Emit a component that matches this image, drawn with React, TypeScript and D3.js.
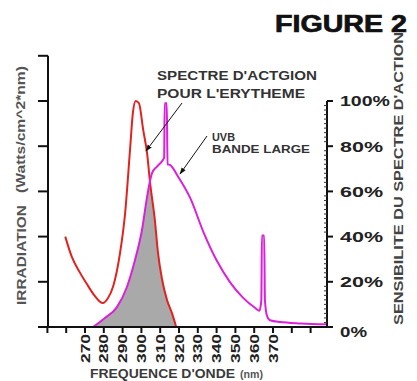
import React from "react";
import * as d3 from "d3";

// Erythema action spectrum (red)
const redNm = [259.5, 263, 267, 271, 275, 279.5, 282, 285, 288.5, 291.3, 294, 295.5, 297, 298.7, 301, 303, 304.6, 307.2, 308.8, 311, 313.6, 316.3, 318.5];
const redVal = [40, 31, 24.5, 19, 14, 10.6, 12.5, 18, 32, 50, 79, 95, 100, 99, 87, 77, 64, 47, 33, 21, 12, 6, 0];

// Broadband UVB lamp spectrum (magenta)
const uvbNm = [274.3, 280.6, 287, 292.3, 296.6, 300.3, 303, 305.6, 308.3, 311.5, 312.1, 312.4, 313.5, 313.9, 315.2, 319.6, 326, 333, 340, 347, 354, 360.4, 362.8, 363.8, 364.1, 365.3, 365.7, 366.8, 368.4, 373.7, 385, 398.5];
const uvbVal = [0, 4, 8.8, 17.7, 29.6, 42.9, 57.5, 68, 71, 74, 75, 99, 99, 72, 71.7, 66.4, 57, 42, 29.5, 20, 13, 8.5, 7.2, 12, 40.5, 40.5, 12, 5, 3, 2.2, 1.6, 1.2];

const xTicks = [250, 260, 270, 280, 290, 300, 310, 320, 330, 340, 350, 360, 370, 380, 390];
const xTickLabels = ["270", "280", "290", "300", "310", "320", "330", "340", "350", "360", "370"];
const leftTicks = [20, 40, 60, 80, 100, 120];
const rightTicks = [0, 20, 40, 60, 80, 100];
const rightTickLabels = ["0%", "20%", "40%", "60%", "80%", "100%"];

const FONT = "'Liberation Sans', Arial, sans-serif";

export default function App() {
  const x = d3.scaleLinear().domain([250, 400]).range([47.4, 329.4]);
  const y = d3.scaleLinear().domain([0, 100]).range([327, 101]);

  const red = redNm.map((n, i) => [n, redVal[i]] as [number, number]);
  const uvb = uvbNm.map((n, i) => [n, uvbVal[i]] as [number, number]);

  const line = d3
    .line<[number, number]>()
    .x((d) => x(d[0]))
    .y((d) => y(d[1]))
    .curve(d3.curveMonotoneX);
  const area = d3
    .area<[number, number]>()
    .x((d) => x(d[0]))
    .y0(y(0))
    .y1((d) => y(d[1]))
    .curve(d3.curveMonotoneX);

  const axL = 48;
  const axR = 327;
  const base = y(0);

  const minorRight = d3.range(0, 101, 2).filter((v) => v % 20 !== 0);

  return (
    <svg
      width={417}
      height={381}
      style={{ position: "absolute", left: 0, top: 0, background: "#fff" }}
      fontFamily={FONT}
    >
      <defs>
        <clipPath id="redClip">
          <path d={area(red) || ""} />
        </clipPath>
        <marker id="ah" viewBox="0 0 10 10" refX="9" refY="5" markerWidth="7" markerHeight="7" orient="auto">
          <path d="M0,1.5 L10,5 L0,8.5 z" fill="#111" />
        </marker>
      </defs>

      {/* Title */}
      <text x={275} y={32} fontSize={23} fontWeight="bold" fill="#111" stroke="#111" strokeWidth={0.7} textLength={132} lengthAdjust="spacingAndGlyphs">
        FIGURE 2
      </text>

      {/* overlap fill */}
      <path d={area(uvb) || ""} fill="#a9a9a9" clipPath="url(#redClip)" />

      {/* curves */}
      <path d={line(red) || ""} fill="none" stroke="#e2221e" strokeWidth={2} />
      <path d={line(uvb) || ""} fill="none" stroke="#dc1fdc" strokeWidth={2} />

      {/* left axis */}
      <line x1={axL} x2={axL} y1={y(120)} y2={base} stroke="#111" strokeWidth={2} />
      {leftTicks.map((t) => (
        <line key={"lt" + t} x1={axL - 10} x2={axL} y1={y(t)} y2={y(t)} stroke="#111" strokeWidth={2} />
      ))}

      {/* right axis */}
      <line x1={axR} x2={axR} y1={y(100)} y2={base} stroke="#111" strokeWidth={2} />
      {minorRight.map((t) => (
        <line key={"mr" + t} x1={axR - 3} x2={axR} y1={y(t)} y2={y(t)} stroke="#333" strokeWidth={1} />
      ))}
      {rightTicks.map((t) => (
        <line key={"rt" + t} x1={axR} x2={axR + 6} y1={y(t)} y2={y(t)} stroke="#111" strokeWidth={2} />
      ))}
      {rightTicks.map((t, i) => (
        <text
          key={"rl" + t}
          x={340}
          y={y(t) + (t === 0 ? 5 : 0)}
          dy="0.36em"
          fontSize={15}
          fontWeight="bold"
          fill="#222"
          textLength={rightTickLabels[i].length === 4 ? 50 : rightTickLabels[i].length === 3 ? 43 : 27}
          lengthAdjust="spacingAndGlyphs"
        >
          {rightTickLabels[i]}
        </text>
      ))}

      {/* x axis */}
      <line x1={axL - 10} x2={axR} y1={base} y2={base} stroke="#111" strokeWidth={2} />
      {xTicks.map((t) => (
        <line key={"xt" + t} x1={x(t)} x2={x(t)} y1={base} y2={base + 6} stroke="#111" strokeWidth={2} />
      ))}
      {xTickLabels.map((lab) => {
        const px = x(+lab);
        return (
          <text
            key={"xl" + lab}
            transform={`translate(${px},${base + 7}) rotate(-90)`}
            textAnchor="end"
            dy="0.36em"
            fontSize={12.5}
            fontWeight="bold"
            fill="#222"
            textLength={29}
            lengthAdjust="spacingAndGlyphs"
          >
            {lab}
          </text>
        );
      })}

      {/* axis titles */}
      <text x={90} y={378} fontSize={13} fontWeight="bold" fill="#3a3a3a" textLength={145} lengthAdjust="spacingAndGlyphs">
        FREQUENCE D'ONDE
      </text>
      <text x={240} y={378} fontSize={10} fontWeight="bold" fill="#555" textLength={23} lengthAdjust="spacingAndGlyphs">
        (nm)
      </text>

      <text transform="translate(21,305) rotate(-90)" dy="0.36em" fontSize={13} fontWeight="bold" fill="#555" textLength={100} lengthAdjust="spacingAndGlyphs">
        IRRADIATION
      </text>
      <text transform="translate(21,193) rotate(-90)" dy="0.36em" fontSize={12} fontWeight="bold" fill="#555" textLength={127} lengthAdjust="spacingAndGlyphs">
        (Watts/cm^2*nm)
      </text>

      <text transform="translate(398,325) rotate(-90)" dy="0.36em" fontSize={13} fontWeight="bold" fill="#444" textLength={293} lengthAdjust="spacingAndGlyphs">
        SENSIBILITE DU SPECTRE D'ACTION
      </text>

      {/* annotations */}
      <text x={157} y={80} fontSize={13.5} fontWeight="bold" fill="#333" textLength={160} lengthAdjust="spacingAndGlyphs">
        SPECTRE D'ACTGION
      </text>
      <text x={157} y={98} fontSize={13.5} fontWeight="bold" fill="#333" textLength={148} lengthAdjust="spacingAndGlyphs">
        POUR L'ERYTHEME
      </text>
      <line x1={182} y1={103} x2={146} y2={151} stroke="#111" strokeWidth={1} markerEnd="url(#ah)" />

      <text x={212} y={141} fontSize={11.5} fontWeight="bold" fill="#333" textLength={23} lengthAdjust="spacingAndGlyphs">
        UVB
      </text>
      <text x={212} y={153} fontSize={11.5} fontWeight="bold" fill="#333" textLength={98} lengthAdjust="spacingAndGlyphs">
        BANDE LARGE
      </text>
      <line x1={207} y1={136} x2={180} y2={174} stroke="#111" strokeWidth={1} markerEnd="url(#ah)" />
    </svg>
  );
}
